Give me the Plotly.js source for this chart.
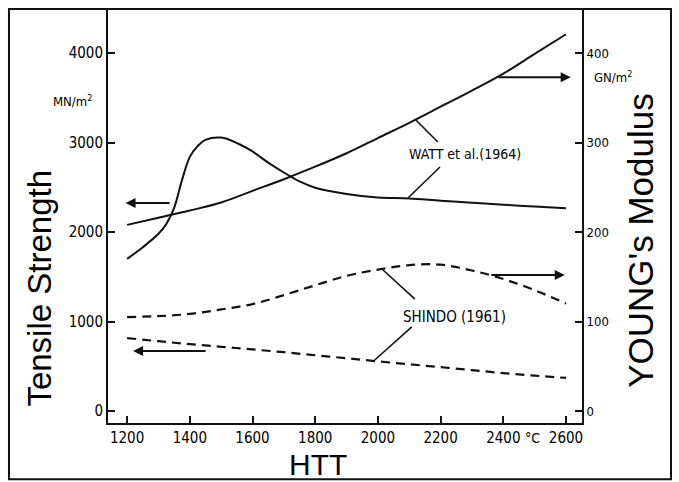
<!DOCTYPE html>
<html>
<head>
<meta charset="utf-8">
<script src="https://cdn.plot.ly/plotly-3.0.1.min.js"></script>
<style>html,body{margin:0;padding:0;background:#fff;}#chart{width:679px;height:482px;}</style>
</head>
<body>
<div id="chart"></div>
<script>
// Heat treatment temperature (°C)
const wattTensileX = [1200,1250,1300,1325,1350,1375,1400,1425,1450,1500,1550,1600,1650,1700,1750,1800,1900,2000,2100,2200,2300,2400,2500,2600];
// Tensile strength, WATT et al. (1964), MN/m²
const wattTensileY = [1700,1830,1980,2090,2270,2580,2840,2960,3030,3055,2995,2900,2775,2665,2565,2495,2425,2385,2375,2350,2328,2305,2285,2265];

const seriesX = [1200,1300,1400,1500,1600,1700,1800,1900,2000,2100,2200,2300,2400,2500,2600];
// Young's modulus, WATT et al. (1964), GN/m²
const wattModulusY = [208,216,224,233,246,259,273,288,305,322,340,358,377,399,421];
// Young's modulus, SHINDO (1961), GN/m²
const shindoModulusY = [105,106,108.5,113.5,119.5,129.5,140.5,151,158,163,163.5,157,147.5,135,120];
// Tensile strength, SHINDO (1961), MN/m²
const shindoTensileY = [815,780,747,717,688,657,623,590,555,522,490,457,423,395,370];

const leftTicks = [0,1000,2000,3000,4000];
const rightTicks = [0,100,200,300,400];
const xTicks = [1200,1400,1600,1800,2000,2200,2400,2600];

// arrows: [headX, tailX, y, axis]
const arrows = [
  [1195, 1340, 2324, 'y'],
  [2615, 2379, 373, 'y2'],
  [2596, 2357, 152, 'y2'],
  [1219, 1455, 670, 'y']
];
// leader lines from labels to curves: [x0, y0, x1, y1] (left axis units)
const leaders = [
  [2118, 3263, 2191, 3006],
  [2198, 2726, 2096, 2380],
  [2013, 1587, 2118, 1251],
  [2108, 939, 1990, 570]
];

const narrow = 'Liberation Sans Narrow, DejaVu Sans Condensed, Arial Narrow, sans-serif';
const tickFont = {family: narrow, size: 15, color: '#000'};
const titleFont = {family: 'Liberation Sans, Arial, sans-serif', color: '#000'};
const lineStyle = {color: '#111', width: 2, shape: 'spline', smoothing: 1};
const dashStyle = {color: '#111', width: 2.2, shape: 'spline', smoothing: 1, dash: '9px,6px'};

const traces = [
  {x: wattTensileX, y: wattTensileY, mode: 'lines', line: lineStyle, yaxis: 'y'},
  {x: seriesX, y: wattModulusY, mode: 'lines', line: lineStyle, yaxis: 'y2'},
  {x: seriesX, y: shindoModulusY, mode: 'lines', line: dashStyle, yaxis: 'y2'},
  {x: seriesX, y: shindoTensileY, mode: 'lines', line: dashStyle, yaxis: 'y'}
];

const annotations = arrows.map(a => ({
  x: a[0], y: a[2], ax: a[1], ay: a[2], xref: 'x', yref: a[3], axref: 'x', ayref: a[3],
  text: '', showarrow: true, arrowhead: 2, arrowsize: 1, arrowwidth: 2, arrowcolor: '#111'
}));
function label(x, y, xref, yref, text, font, angle) {
  return {x: x, y: y, xref: xref, yref: yref, text: text, showarrow: false, font: font,
    textangle: angle || 0, xanchor: 'center', yanchor: 'middle'};
}
annotations.push(
  label(2278, 2870, 'x', 'y', 'WATT et al.(1964)', {family: narrow, size: 14, color: '#000'}),
  label(2245, 1050, 'x', 'y', 'SHINDO (1961)', {family: narrow, size: 15, color: '#000'}),
  label(-0.074, 0.777, 'paper', 'paper', 'MN/m<sup>2</sup>', {family: narrow, size: 13, color: '#000'}),
  label(1.066, 0.835, 'paper', 'paper', 'GN/m<sup>2</sup>', {family: narrow, size: 13, color: '#000'}),
  label(-0.1435, 0.327, 'paper', 'paper', 'Tensile Strength', Object.assign({size: 33}, titleFont), -90),
  label(1.1245, 0.44, 'paper', 'paper', "YOUNG's Modulus", Object.assign({size: 35}, titleFont), -90),
  label(0.443, -0.1, 'paper', 'paper', 'HTT', Object.assign({size: 30}, titleFont)),
  label(2492, -0.036, 'x', 'paper', '°C', {family: narrow, size: 14, color: '#000'})
);

const shapes = leaders.map(l => ({
  type: 'line', xref: 'x', yref: 'y', x0: l[0], y0: l[1], x1: l[2], y1: l[3],
  line: {color: '#111', width: 1.6}
}));
shapes.push({type: 'rect', xref: 'paper', yref: 'paper', x0: -0.2089, x1: 1.1878, y0: -0.1356, y1: 1.0,
  line: {color: '#111', width: 2}, layer: 'below'});

const layout = {
  width: 679, height: 482,
  margin: {l: 108, r: 97, t: 9, b: 59},
  paper_bgcolor: '#fff', plot_bgcolor: '#fff',
  showlegend: false,
  xaxis: {range: [1139, 2651], tickvals: xTicks, ticktext: xTicks.map(String), ticks: 'inside', ticklen: 7,
    tickwidth: 2, tickcolor: '#111', showline: true, linecolor: '#111', linewidth: 2, showgrid: false,
    zeroline: false, tickfont: tickFont, mirror: false},
  yaxis: {range: [-134, 4492], tickvals: leftTicks, ticktext: leftTicks.map(String), ticks: 'inside', ticklen: 7,
    tickwidth: 2, tickcolor: '#111', showline: true, linecolor: '#111', linewidth: 2, showgrid: false,
    zeroline: false, tickfont: tickFont},
  yaxis2: {range: [-13.4, 449.2], overlaying: 'y', side: 'right', tickvals: rightTicks, ticktext: rightTicks.map(String),
    ticks: 'inside', ticklen: 7, tickwidth: 2, tickcolor: '#111', showline: true, linecolor: '#111', linewidth: 2,
    showgrid: false, zeroline: false, tickfont: Object.assign({}, tickFont, {size: 13})},
  annotations: annotations,
  shapes: shapes
};

Plotly.newPlot('chart', traces, layout, {staticPlot: true, displayModeBar: false});
</script>
</body>
</html>
